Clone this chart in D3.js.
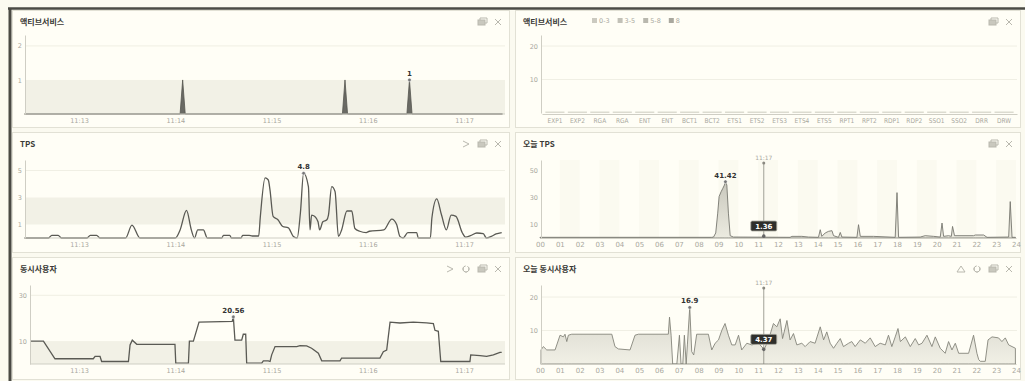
<!DOCTYPE html>
<html><head><meta charset="utf-8">
<script src="https://cdn.jsdelivr.net/npm/d3@7"></script>
<style>body{margin:0;background:#fbfaf0}svg{display:block}</style>
</head><body><svg id="c" width="1025" height="381"></svg>
<script>
// ---------- DATA ----------
// time in seconds after 11:12:00
const timeTicks = [60, 120, 180, 240, 300];
const timeTickLabels = ["11:13", "11:14", "11:15", "11:16", "11:17"];
const hourTickLabels = ["00","01","02","03","04","05","06","07","08","09","10","11","12","13","14","15","16","17","18","19","20","21","22","23","24"];

const activeTimes  = [26, 123, 124.6, 126.2, 224.2, 225.8, 227.4, 264.4, 266, 267.6, 324];
const activeValues = [0, 0, 1, 0, 0, 1, 0, 0, 1, 0, 0];

const serviceNames  = ["EXP1","EXP2","RGA","RGA","ENT","ENT","BCT1","BCT2","ETS1","ETS2","ETS3","ETS4","ETS5","RPT1","RPT2","RDP1","RDP2","SSO1","SSO2","DRR","DRW"];
const serviceValues = [0,0,0,0,0,0,0,0,0,0,0,0,0,0,0,0,0,0,0,0,0];
const legendLabels  = ["0-3", "3-5", "5-8", "8"];

const tpsTimes  = [26,41,43,47,49,65,67,71,73,89,93,98,120,123,127,130,132,134,137.5,140,149,150,154,155,161,162,166,168,172,173,176,178,179,181,184,187,190.5,193.6,196,198,200,203,204,205,207,209,210,212,214.5,215.5,217.5,219.6,221.7,223.7,227,230,232,235,239,241,250,255,258,260,262,265,270.5,271.5,279,280,283,286,289,292,295,299,301,304,308,312,314,317,320,323.5];
const tpsValues = [0,0,0.2,0.2,0,0,0.2,0.2,0,0,0.95,0,0,0.6,2.05,0.6,0,0.6,0.6,0,0,0.2,0.2,0,0,0.2,0.2,0.15,0.15,1.55,4.45,4.3,3.6,1.6,1.35,0.85,0.75,0.12,0,1.85,4.8,3.8,0.6,1.7,1.6,1.2,0.6,1.2,1.35,1.7,3.8,3.45,0.12,0.6,2.0,2.0,0.7,0.5,0.4,0.5,0.6,1.4,1.0,0.12,0,0.4,0.4,0,0,1.5,2.9,1.7,0.6,1.7,1.6,0.37,0.07,0.17,0.37,0.32,0,0.12,0.3,0.4];

const usersTimes  = [29.5,37.8,45,68.9,70,73.1,74.1,90.8,91.8,93.2,96,119.8,120.3,128.2,128.8,131.3,134.8,155.5,156.2,157.2,161.4,162.4,163.9,164.5,173.9,174.9,178,179.1,180.1,182.2,195.7,197.8,201.9,205,209.2,211.3,222.7,223.7,247.6,249.7,251.8,253.9,260.1,268.4,276.7,280.9,281.9,284,285.5,303.7,304.2,310,314.1,318.3,322.4,323.5];
const usersValues = [10,10,2.3,2.3,3.3,3.3,1.1,1.1,8.3,10.4,8.6,8.6,0.4,0.4,10,10,18.3,18.6,20.56,10.4,10.4,13,13,0.4,0.4,1.4,1.4,1.1,4,7.6,7.6,8,7.9,6.9,4.7,1.4,1.4,2.6,2.6,5.4,6.1,18.3,17.9,18.3,18,17.6,14.7,14.3,1.1,1.1,4,3.7,3.3,4,5.1,5.1];

const todayTpsHours  = [0,8.66,8.75,8.86,8.96,9.03,9.13,9.22,9.30,9.35,9.42,9.50,9.59,9.75,12.61,12.70,13.20,13.54,14.04,14.13,14.21,14.38,14.55,14.72,14.80,15.05,15.14,15.22,15.98,16.06,16.15,16.82,17.91,18.0,18.08,19.17,19.42,19.85,20.18,20.27,20.35,20.60,20.74,20.80,20.90,21.86,21.95,22.37,22.54,23.63,23.71,23.80,23.97];
const todayTpsValues = [0.5,0.5,0.7,3.7,18.3,30.5,34,36.6,39,41.42,39,18.3,1.7,0.7,0.5,1.2,1.2,0.7,0.5,6.1,1.2,3.7,4.9,5.4,1.7,0.5,4.1,0.7,0.5,9.8,1.2,1.2,0.5,33.4,0.5,0.7,1.7,1.2,0.7,11,1.2,1.7,1.2,8.5,1.7,1.7,2.2,2.2,0.5,0.7,26.8,0.5,0.5];

const todayUsersHours  = [0.05,0.17,0.34,0.76,1.01,1.18,1.26,1.35,1.43,1.60,3.62,3.78,3.95,4.54,4.79,4.96,6.47,6.53,6.61,6.69,6.90,7.03,7.11,7.20,7.28,7.37,7.43,7.55,7.65,7.75,7.90,8.49,8.66,8.83,9.00,9.17,9.33,9.50,9.67,9.84,10.01,10.17,10.43,10.68,11.02,11.30,11.52,11.77,11.94,12.11,12.23,12.45,12.61,12.78,12.95,13.20,13.37,13.62,13.87,14.13,14.30,14.46,14.63,14.80,14.97,15.14,15.30,15.56,15.72,15.89,16.15,16.40,16.65,16.90,17.15,17.41,17.57,17.74,17.91,18.05,18.17,18.42,18.67,18.92,19.09,19.26,19.51,19.76,19.93,20.18,20.43,20.60,20.77,20.94,21.11,21.61,21.86,22.03,22.12,22.20,22.45,22.59,22.79,23.12,23.29,23.46,23.63,23.80,23.97];
const todayUsersValues = [4.2,5.2,4.2,4.2,8.6,8.1,8.9,6.7,8.6,8.9,8.9,5.2,4.5,4.2,8.6,8.9,8.9,14,8.6,0,0,8.6,0,0,8.6,0,5.7,16.9,3.7,2.7,8.9,8.9,4.2,6.2,7.2,10.1,12.1,8.6,5.7,5.7,8.6,4.2,6.2,5.7,6.2,4.37,7.2,12.1,11.1,13.5,7.6,13,7.2,9.1,5.7,6.2,5.2,6.7,6.2,11.1,7.2,9.6,6.2,4.7,6.2,7.6,5.2,6.2,6.7,5.2,7.2,6.2,7.8,5.2,6.2,5.7,8.6,5.2,8.1,10.6,6.7,8.1,5.2,7.6,5.7,6.2,8.6,5.2,8.1,4.7,3.2,6.7,4.2,6.2,3.2,3.2,8.6,3.2,1.3,0.8,0.8,7.2,8.1,7.8,6.7,7.8,5.7,5.2,4.7];

const markerHour = 11.283;   // 11:17
const markerLabel = "11:17";
const todayTpsNow = "1.36";
const todayUsersNow = "4.37";

// ---------- DRAWING ----------
const svg = d3.select("#c");
const KR = "'Noto Sans CJK KR','Noto Sans',sans-serif";
const NUM = "'DejaVu Sans','Liberation Sans',sans-serif";
const tickCol = "#a9a89e";
const fmt = d3.format("d");

svg.append("rect").attr("width", 1025).attr("height", 381).attr("fill", "#fbfaf0");
svg.append("line").attr("x1", 8).attr("x2", 1025).attr("y1", 8.5).attr("y2", 8.5).attr("stroke", "#4a4a44").attr("stroke-width", 2.5);
svg.append("line").attr("x1", 10).attr("x2", 10).attr("y1", 8).attr("y2", 381).attr("stroke", "#4a4a44").attr("stroke-width", 3);

const cols = [[12, 510], [515, 1021]];
const rows = [[10, 128], [132, 253], [257, 380]];

function panel(c, r, title) {
  const [x0, x1] = cols[c], [y0, y1] = rows[r];
  svg.append("rect").attr("x", x0 + 0.5).attr("y", y0 + 0.5).attr("width", x1 - x0 - 1).attr("height", y1 - y0 - 1)
    .attr("fill", "#fffef6").attr("stroke", "#e2e1d5");
  svg.append("text").attr("x", x0 + 8).attr("y", y0 + 15).text(title)
    .attr("font-family", KR).attr("font-size", 8).attr("font-weight", "bold").attr("fill", "#3a3a36");
  return { x0, x1, y0, y1 };
}

function icons(p, kinds) {
  let x = p.x1 - 12;
  const y = p.y0 + 12;
  const g = svg.append("g").attr("stroke", "#b9b8ae").attr("fill", "none").attr("stroke-width", 1);
  kinds.slice().reverse().forEach(k => {
    if (k === "x") {
      g.append("path").attr("d", `M${x-3},${y-3}L${x+3},${y+3}M${x+3},${y-3}L${x-3},${y+3}`);
    } else if (k === "win") {
      g.append("rect").attr("x", x - 4).attr("y", y - 2).attr("width", 7).attr("height", 5).attr("fill", "#c9c8be");
      g.append("path").attr("d", `M${x-2},${y-2}V${y-4}H${x+5}V${y+1}H${x+3}`);
    } else if (k === "play") {
      g.append("path").attr("d", `M${x-3},${y-3}L${x+3},${y}L${x-3},${y+3}`);
    } else if (k === "tri") {
      g.append("path").attr("d", `M${x-4},${y+3}L${x},${y-3}L${x+4},${y+3}Z`);
    } else if (k === "ring") {
      g.append("path").attr("d", d3.arc()({ innerRadius: 3, outerRadius: 3, startAngle: 0.6, endAngle: 2 * Math.PI - 0.2 }))
        .attr("transform", `translate(${x},${y})`);
    }
    x -= 16;
  });
}

function styleAxis(g, size) {
  g.selectAll("text").attr("fill", tickCol).attr("font-family", NUM).attr("font-size", size || 7);
  g.select(".domain").attr("stroke", "#cfcec4");
  g.selectAll(".tick line").remove();
}

const xTime = d3.scaleLinear().domain([26, 324]).range([24.5, 502.5]);
const xHour = d3.scaleLinear().domain([0, 24]).range([540, 1016]);

function timeAxis(yBase, xStart) {
  const g = svg.append("g").attr("transform", `translate(0,${yBase})`)
    .call(d3.axisBottom(xTime).tickValues(timeTicks).tickFormat((d, i) => timeTickLabels[i]).tickSize(0).tickPadding(4));
  styleAxis(g, 6.5);
  g.select(".domain").attr("d", `M${xStart},0H505`);
}
function hourAxis(yBase) {
  const g = svg.append("g").attr("transform", `translate(0,${yBase})`)
    .call(d3.axisBottom(xHour).tickValues(d3.range(hourTickLabels.length)).tickFormat((d, i) => hourTickLabels[i]).tickSize(0).tickPadding(4));
  styleAxis(g, 7);
}
function yAxis(x, y, ticks) {
  const g = svg.append("g").attr("transform", `translate(${x},0)`)
    .call(d3.axisLeft(y).tickValues(ticks).tickFormat(fmt).tickSize(0).tickPadding(3));
  styleAxis(g, 6.5);
}
function grid(x0, x1, y, ticks) {
  svg.append("g").selectAll("line").data(ticks).join("line")
    .attr("x1", x0).attr("x2", x1).attr("y1", d => y(d)).attr("y2", d => y(d))
    .attr("stroke", "#f0efe4").attr("stroke-width", 1);
}
function band(x0, x1, y, lo, hi) {
  svg.append("rect").attr("x", x0).attr("width", x1 - x0).attr("y", y(hi)).attr("height", y(lo) - y(hi)).attr("fill", "#f2f1e6");
}
function peakLabel(x, y, label) {
  svg.append("circle").attr("cx", x).attr("cy", y).attr("r", 1.8).attr("fill", "#777").attr("stroke", "#fff").attr("stroke-width", 0.5);
  svg.append("text").attr("x", x).attr("y", y - 4).attr("text-anchor", "middle").text(label)
    .attr("font-family", NUM).attr("font-size", 7).attr("font-weight", "bold").attr("fill", "#333");
}

// ===== Panel 1: 액티브서비스 =====
{
  const p = panel(0, 0, "액티브서비스");
  icons(p, ["win", "x"]);
  const y = d3.scaleLinear().domain([0, 2.32]).range([114, 35]);
  grid(25, 505, y, [2]);
  band(25, 505, y, 0, 1);
  const area = d3.area().x((d, i) => xTime(activeTimes[i])).y0(y(0)).y1(d => y(d));
  svg.append("path").attr("d", area(activeValues)).attr("fill", "#6a6a64").attr("stroke", "#55554f").attr("stroke-width", 0.8);
  yAxis(25, y, [1, 2]);
  timeAxis(114, 24.5);
  const last = activeValues.length - 3;
  peakLabel(xTime(activeTimes[last]), y(activeValues[last]), "1");
}

// ===== Panel 2: 액티브서비스 by service =====
{
  const p = panel(1, 0, "액티브서비스");
  icons(p, ["win", "x"]);
  const lg = svg.append("g");
  let lx = 592;
  legendLabels.forEach((t, i) => {
    lg.append("rect").attr("x", lx).attr("y", 18).attr("width", 5).attr("height", 5).attr("fill", ["#cbcac0", "#c2c1b7", "#b9b8ae", "#a9a89e"][i]);
    lg.append("text").attr("x", lx + 7).attr("y", 23).text(t).attr("font-family", NUM).attr("font-size", 6.5).attr("fill", "#aaa99f");
    lx += 7 + t.length * 4.2 + 6;
  });
  const y = d3.scaleLinear().domain([0, 23.3]).range([113, 35]);
  grid(542, 1017, y, [10, 20]);
  const x = d3.scaleBand().domain(d3.range(serviceNames.length)).range([542, 1017]).padding(0.15);
  svg.append("g").selectAll("rect").data(serviceValues).join("rect")
    .attr("x", (d, i) => x(i)).attr("width", x.bandwidth())
    .attr("y", d => Math.min(y(d), y(0) - 1.5)).attr("height", d => Math.max(1.5, y(0) - y(d)))
    .attr("fill", "#dcdbd0");
  yAxis(541, y, [10, 20]);
  const g = svg.append("g").attr("transform", "translate(0,114)")
    .call(d3.axisBottom(x).tickFormat(i => serviceNames[i]).tickSize(0).tickPadding(4));
  styleAxis(g, 6);
  g.selectAll("text").attr("font-family", "'Liberation Sans Narrow','DejaVu Sans Condensed',sans-serif").attr("font-size", 6.5);
}

// ===== Panel 3: TPS =====
{
  const p = panel(0, 1, "TPS");
  icons(p, ["play", "win", "x"]);
  const y = d3.scaleLinear().domain([0, 5.78]).range([238, 160]);
  grid(25, 505, y, [5]);
  band(25, 505, y, 1, 3);
  const line = d3.line().x((d, i) => xTime(tpsTimes[i])).y(d => y(d)).curve(d3.curveMonotoneX);
  svg.append("path").attr("d", line(tpsValues)).attr("fill", "none").attr("stroke", "#5a5a54").attr("stroke-width", 1.3);
  yAxis(25, y, [1, 3, 5]);
  timeAxis(238, 24.5);
  const mi = tpsValues.indexOf(d3.max(tpsValues));
  peakLabel(xTime(tpsTimes[mi]), y(tpsValues[mi]), String(tpsValues[mi]));
}

// ===== marker / tooltip for "today" panels =====
function markerAndTip(y, yTop, value) {
  const mx = xHour(markerHour);
  svg.append("line").attr("x1", mx).attr("x2", mx).attr("y1", yTop).attr("y2", y(0)).attr("stroke", "#8a8980").attr("stroke-width", 0.8);
  svg.append("circle").attr("cx", mx).attr("cy", yTop).attr("r", 1.5).attr("fill", "#8a8980");
  svg.append("text").attr("x", mx).attr("y", yTop - 3).attr("text-anchor", "middle").text(markerLabel)
    .attr("font-family", NUM).attr("font-size", 6).attr("fill", "#a9a89e");
  const v = +value;
  svg.append("circle").attr("cx", mx).attr("cy", y(v)).attr("r", 1.8).attr("fill", "#666");
  const by = Math.min(y(v) - 15, y(0) - 17);
  svg.append("rect").attr("x", mx - 13).attr("y", by).attr("width", 26).attr("height", 10).attr("rx", 1.5)
    .attr("fill", "#2f2f2b").attr("stroke", "#aaa99f").attr("stroke-width", 0.8);
  svg.append("text").attr("x", mx).attr("y", by + 7.5).attr("text-anchor", "middle").text(value)
    .attr("font-family", NUM).attr("font-size", 7).attr("font-weight", "bold").attr("fill", "#fff");
}
const defs = svg.append("defs");
const grad = defs.append("linearGradient").attr("id", "gfill").attr("x1", 0).attr("x2", 0).attr("y1", 0).attr("y2", 1);
grad.append("stop").attr("offset", "0%").attr("stop-color", "#c9c8bd");
grad.append("stop").attr("offset", "100%").attr("stop-color", "#ecebe0");

// ===== Panel 4: 오늘 TPS =====
{
  const p = panel(1, 1, "오늘 TPS");
  icons(p, ["win", "x"]);
  const y = d3.scaleLinear().domain([0, 57.4]).range([238, 160]);
  svg.append("g").selectAll("rect").data(d3.range(1, 24, 2)).join("rect")
    .attr("x", d => xHour(d)).attr("width", xHour(1) - xHour(0)).attr("y", 160).attr("height", 78).attr("fill", "#fbfaf0");
  const area = d3.area().x((d, i) => xHour(todayTpsHours[i])).y0(y(0)).y1(d => y(d));
  svg.append("path").attr("d", area(todayTpsValues)).attr("fill", "url(#gfill)").attr("stroke", "#77776f").attr("stroke-width", 0.9);
  yAxis(541, y, [10, 30, 50]);
  hourAxis(238);
  const mi = todayTpsValues.indexOf(d3.max(todayTpsValues));
  peakLabel(xHour(todayTpsHours[mi]), y(todayTpsValues[mi]), String(todayTpsValues[mi]));
  markerAndTip(y, 163, todayTpsNow);
}

// ===== Panel 5: 동시사용자 =====
{
  const p = panel(0, 2, "동시사용자");
  icons(p, ["play", "ring", "win", "x"]);
  const y = d3.scaleLinear().domain([0, 34.5]).range([364, 285]);
  grid(30, 505, y, [30]);
  band(30, 505, y, 0, 10);
  const line = d3.line().x((d, i) => xTime(usersTimes[i])).y(d => y(d));
  svg.append("path").attr("d", line(usersValues)).attr("fill", "none").attr("stroke", "#5a5a54").attr("stroke-width", 1.3);
  yAxis(30, y, [10, 30]);
  timeAxis(364, 30);
  const mi = usersValues.indexOf(d3.max(usersValues));
  peakLabel(xTime(usersTimes[mi]), y(usersValues[mi]), String(usersValues[mi]));
}

// ===== Panel 6: 오늘 동시사용자 =====
{
  const p = panel(1, 2, "오늘 동시사용자");
  icons(p, ["tri", "ring", "win", "x"]);
  const y = d3.scaleLinear().domain([0, 23.6]).range([364, 285]);
  grid(541, 1017, y, [10, 20]);
  const area = d3.area().x((d, i) => xHour(todayUsersHours[i])).y0(y(0)).y1(d => y(d));
  svg.append("path").attr("d", area(todayUsersValues)).attr("fill", "url(#gfill)").attr("fill-opacity", 0.75).attr("stroke", "#85847b").attr("stroke-width", 0.9);
  yAxis(541, y, [10, 20]);
  hourAxis(364);
  const mi = todayUsersValues.indexOf(d3.max(todayUsersValues));
  peakLabel(xHour(todayUsersHours[mi]), y(todayUsersValues[mi]), String(todayUsersValues[mi]));
  markerAndTip(y, 288, todayUsersNow);
}
</script></body></html>
